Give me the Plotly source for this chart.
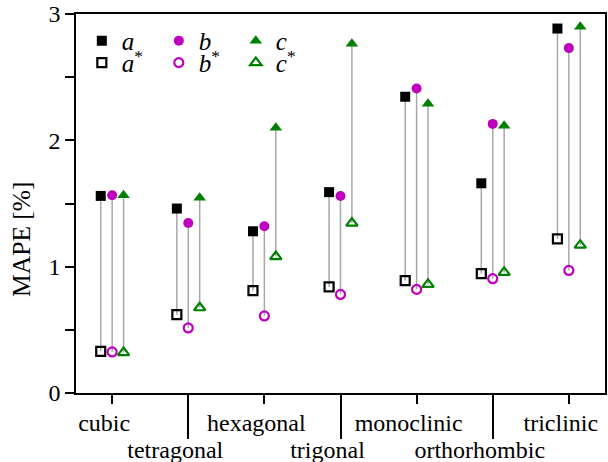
import plotly.graph_objects as go

categories = ["cubic", "tetragonal", "hexagonal", "trigonal", "monoclinic", "orthorhombic", "triclinic"]
a_vals = [1.56, 1.46, 1.28, 1.59, 2.345, 1.66, 2.885]
b_vals = [1.565, 1.345, 1.32, 1.56, 2.41, 2.13, 2.73]
c_vals = [1.565, 1.545, 2.10, 2.765, 2.29, 2.115, 2.90]
a_star = [0.33, 0.62, 0.81, 0.84, 0.89, 0.945, 1.22]
b_star = [0.325, 0.515, 0.61, 0.78, 0.82, 0.905, 0.97]
c_star = [0.32, 0.675, 1.08, 1.345, 0.86, 0.955, 1.17]
y_ticks = [0, 0.5, 1, 1.5, 2, 2.5, 3]
y_ticklabels = ["0", "", "1", "", "2", "", "3"]
y_title = "MAPE [%]"

FONT = "Liberation Serif"
FS = 24
BLACK = "#000000"
MAG = "#bf00bf"
GREEN = "#008000"
GRAY = "#a8a8a8"
offset = 0.15
idx = list(range(len(categories)))

fig = go.Figure()

series = [
    (a_vals, a_star, -offset, BLACK, "square", "<i>a</i>", "<i>a</i><sup>*</sup>"),
    (b_vals, b_star, 0.0, MAG, "circle", "<i>b</i>", "<i>b</i><sup>*</sup>"),
    (c_vals, c_star, offset, GREEN, "triangle-up", "<i>c</i>", "<i>c</i><sup>*</sup>"),
]

# connector lines
lx, ly = [], []
for top, bot, off, *_ in series:
    for i in idx:
        lx += [i + off, i + off, None]
        ly += [top[i], bot[i], None]
fig.add_trace(go.Scatter(x=lx, y=ly, mode="lines", line=dict(color=GRAY, width=1.5),
                         showlegend=False, hoverinfo="skip"))

for top, bot, off, col, sym, name, name_s in series:
    xs = [i + off for i in idx]
    size = 10 if sym != "triangle-up" else 11
    fig.add_trace(go.Scatter(x=xs, y=top, mode="markers", name=name, legend="legend",
                             marker=dict(symbol=sym, size=size, color=col,
                                         line=dict(width=0))))
for top, bot, off, col, sym, name, name_s in series:
    xs = [i + off for i in idx]
    size = 9 if sym != "triangle-up" else 10
    fig.add_trace(go.Scatter(x=xs, y=bot, mode="markers", name=name_s, legend="legend2",
                             marker=dict(symbol=sym + "-open", size=size, color=col,
                                         line=dict(width=2.2, color=col))))

# dummy trace for second x axis
fig.add_trace(go.Scatter(x=[None], y=[None], xaxis="x2", showlegend=False, hoverinfo="skip"))

xr = [-0.475, 6.475]
fig.update_layout(
    width=608, height=462,
    margin=dict(l=76, r=3, t=14, b=69, autoexpand=False),
    paper_bgcolor="white", plot_bgcolor="white",
    font=dict(family=FONT, size=FS, color="black"),
    xaxis=dict(range=xr, tickmode="array", tickvals=idx[0::2], ticktext=categories[0::2],
               ticks="outside", ticklen=9, tickwidth=1.5, tickcolor="black",
               showline=True, linecolor="black", linewidth=1.5, mirror=True,
               showgrid=False, zeroline=False, ticklabelstandoff=-2, ticklabelshift=-8,
               automargin=False, ticklabeloverflow="allow"),
    xaxis2=dict(range=xr, overlaying="x", anchor="y", side="bottom",
                tickmode="array", tickvals=idx[1::2], ticktext=categories[1::2],
                ticks="outside", ticklen=45, tickwidth=1.5, tickcolor="black",
                showline=False, showgrid=False, zeroline=False, ticklabelstandoff=-10,
                ticklabelshift=-13, automargin=False, ticklabeloverflow="allow"),
    yaxis=dict(range=[0, 3], tickmode="array", tickvals=y_ticks, ticktext=y_ticklabels,
               ticks="outside", ticklen=9, tickwidth=1.5, tickcolor="black",
               showline=True, linecolor="black", linewidth=1.5, mirror=True,
               showgrid=False, zeroline=False, automargin=False, ticklabeloverflow="allow"),
    annotations=[dict(text=y_title, xref="paper", yref="paper", x=0, y=0.404,
                      xshift=-54, xanchor="center", yanchor="middle", textangle=-90,
                      showarrow=False, font=dict(size=25.5))],
    legend=dict(orientation="h", x=0.011, y=0.929, xanchor="left", yanchor="middle",
                entrywidth=32, entrywidthmode="pixels", bgcolor="rgba(0,0,0,0)",
                font=dict(size=25), tracegroupgap=0, itemclick=False),
    legend2=dict(orientation="h", x=0.011, y=0.871, xanchor="left", yanchor="middle",
                 entrywidth=32, entrywidthmode="pixels", bgcolor="rgba(0,0,0,0)",
                 font=dict(size=25), tracegroupgap=0, itemclick=False),
    showlegend=True,
)

fig.write_html("out.html", config={"displayModeBar": False},
               post_script="document.body.style.margin='0';document.body.style.overflow='hidden';")
